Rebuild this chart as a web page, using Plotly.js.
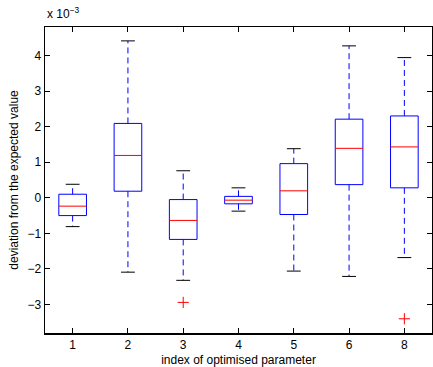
<!DOCTYPE html>
<html><head><meta charset="utf-8">
<script src="https://cdn.plot.ly/plotly-3.0.1.min.js"></script>
<style>html,body{margin:0;padding:0;background:#fff}</style>
</head><body><div id="chart" style="width:433px;height:367px"></div>
<script>
// values in units of 1e-3
var categories = ['1','2','3','4','5','6','8'];
var upperWhisker = [0.38, 4.41, 0.76, 0.28, 1.38, 4.27, 3.94];
var q3Values     = [0.10, 2.09, -0.05, 0.04, 0.96, 2.21, 2.30];
var medians      = [-0.235, 1.19, -0.636, -0.067, 0.196, 1.39, 1.43];
var q1Values     = [-0.50, 0.185, -1.17, -0.17, -0.47, 0.37, 0.28];
var lowerWhisker = [-0.81, -2.09, -2.32, -0.375, -2.06, -2.21, -1.68];
var outlierCat   = ['3', '8'];
var outlierVals  = [-2.94, -3.40];

var hw = 0.25, cw = 0.125;
var bx=[],by=[],mx=[],my=[],wx=[],wy=[],cx=[],cy=[];
categories.forEach(function(c,k){
  var p = k+1;
  bx.push(p-hw,p+hw,p+hw,p-hw,p-hw,null);
  by.push(q1Values[k],q1Values[k],q3Values[k],q3Values[k],q1Values[k],null);
  mx.push(p-hw,p+hw,null); my.push(medians[k],medians[k],null);
  wx.push(p,p,null,p,p,null);
  wy.push(q3Values[k],upperWhisker[k],null,q1Values[k],lowerWhisker[k],null);
  cx.push(p-cw,p+cw,null,p-cw,p+cw,null);
  cy.push(upperWhisker[k],upperWhisker[k],null,lowerWhisker[k],lowerWhisker[k],null);
});
var ox = outlierCat.map(function(c){return categories.indexOf(c)+1;});

var traces = [
  {x:wx,y:wy,mode:'lines',line:{color:'#0000ff',width:1,dash:'6px,4px'},hoverinfo:'skip'},
  {x:cx,y:cy,mode:'lines',line:{color:'#000000',width:1},hoverinfo:'skip'},
  {x:bx,y:by,mode:'lines',line:{color:'#0000ff',width:1},hoverinfo:'skip'},
  {x:mx,y:my,mode:'lines',line:{color:'#ff0000',width:1},hoverinfo:'skip'},
  {x:ox,y:outlierVals,mode:'markers',marker:{symbol:'cross-thin-open',size:8,color:'#ff0000',line:{color:'#ff0000',width:1}},hoverinfo:'skip'}
];
var font = {family:'Liberation Sans, Arial, sans-serif', size:11, color:'#000'};
var layout = {
  width:433, height:367,
  margin:{l:45,r:1,t:27,b:34},
  paper_bgcolor:'#fff', plot_bgcolor:'#fff',
  showlegend:false, font:font,
  xaxis:{range:[0.5,7.5], tickvals:[1,2,3,4,5,6,7], ticktext:categories,
    ticks:'inside', ticklen:5, tickcolor:'#000', showgrid:false, zeroline:false,
    showline:true, linecolor:'#000', linewidth:1.5, mirror:'ticks',
    tickfont:{family:font.family,size:12},
    title:{text:'index of optimised parameter', font:{family:font.family,size:12}, standoff:4}},
  yaxis:{range:[-3.8,4.8], tickvals:[-3,-2,-1,0,1,2,3,4], ticktext:['\u22123','\u22122','\u22121','0','1','2','3','4'],
    ticks:'inside', ticklen:5, tickcolor:'#000', showgrid:false, zeroline:false,
    showline:true, linecolor:'#000', linewidth:1.5, mirror:'ticks',
    tickfont:{family:font.family,size:12},
    title:{text:'deviation from the expected value', font:{family:font.family,size:12}, standoff:6}},
  annotations:[{text:'x 10<sup>\u22123</sup>', xref:'paper', yref:'paper', x:0, y:1, xanchor:'left', yanchor:'bottom', yshift:4, showarrow:false, font:{family:font.family,size:12}}]
};
Plotly.newPlot('chart', traces, layout, {displayModeBar:false, staticPlot:true});
</script></body></html>
